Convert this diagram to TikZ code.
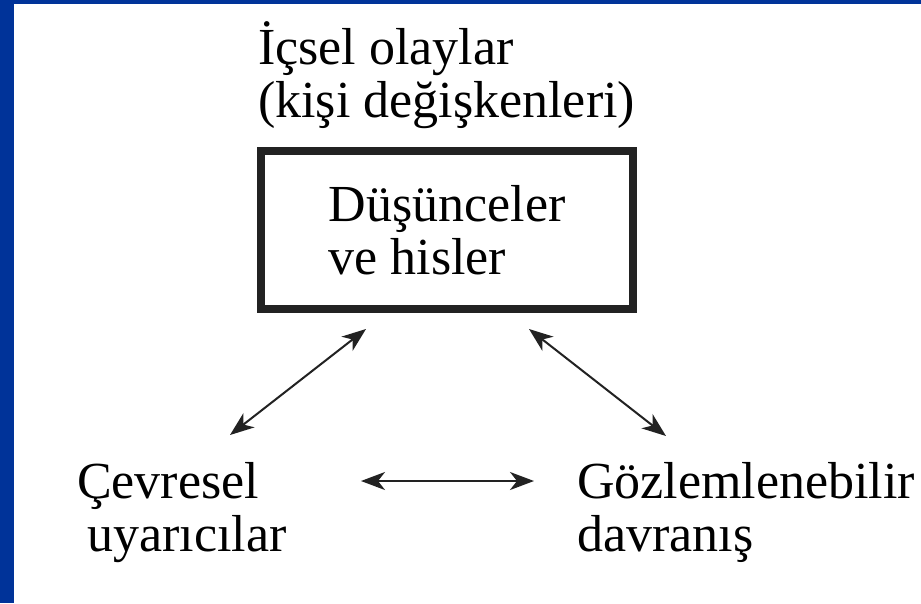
\documentclass[tikz,border=0pt]{standalone}
\usepackage{fontspec}
\setmainfont{Liberation Serif}
\usetikzlibrary{arrows.meta,positioning,calc}
\definecolor{slideblue}{HTML}{003399}
\definecolor{inkgray}{HTML}{222222}

\begin{document}
\begin{tikzpicture}[
    x=1pt, y=-1pt,
    txt/.style={align=left, inner sep=0pt, anchor=base west, font=\fontsize{52}{53}\selectfont},
    thoughtbox/.style={rectangle, draw=inkgray, line width=8pt, minimum width=372pt, minimum height=158pt, align=left, inner sep=0pt, font=\fontsize{52}{53}\selectfont},
    arrow/.style={{Stealth[length=24pt,width=18pt,inset=7pt]}-{Stealth[length=24pt,width=18pt,inset=7pt]}, line width=2pt, inkgray}
]
\useasboundingbox (0,0) rectangle (921,603);

% Slide frame
\fill[slideblue] (0,0) rectangle (921,603);
\fill[white] (14,4) rectangle (921,603);

% Inner events
\node[txt] (inner) at (258,117) {İçsel olaylar\\(kişi değişkenleri)};
\node[thoughtbox] (thought) at (447,230) {Düşünceler\\ve hisler};

% Environment and behaviour
\node[txt] (stimuli) at (77,551) {Çevresel\\\hspace{10pt}uyarıcılar};
\node[txt] (behaviour) at (577,551) {Gözlemlenebilir\\davranış};

% Arrow ends
\coordinate (thoughtL) at (366,329);
\coordinate (thoughtR) at (529,329);
\coordinate (stimuliT) at (230,435);
\coordinate (stimuliR) at (361,481);
\coordinate (behaviourT) at (666,436);
\coordinate (behaviourL) at (534,481);

% Arrows
\draw[arrow] (stimuliT) -- (thoughtL);
\draw[arrow] (thoughtR) -- (behaviourT);
\draw[arrow] (stimuliR) -- (behaviourL);

\end{tikzpicture}
\end{document}
